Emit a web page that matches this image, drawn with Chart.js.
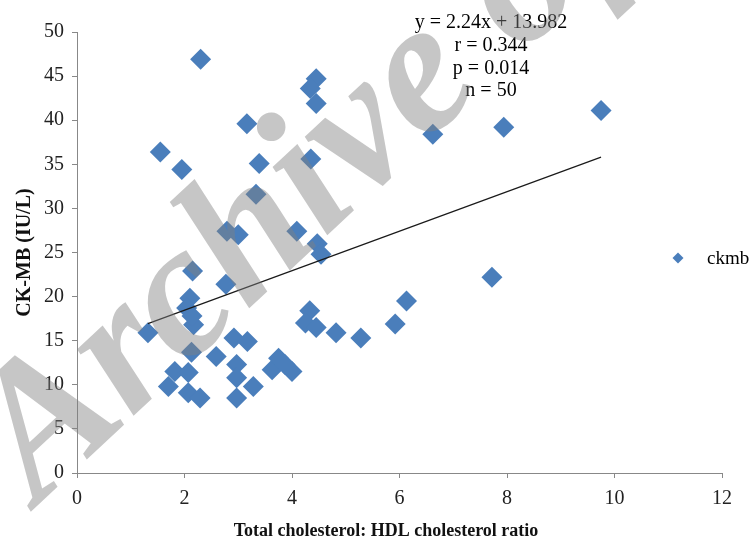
<!DOCTYPE html>
<html>
<head>
<meta charset="utf-8">
<script src="https://cdn.jsdelivr.net/npm/chart.js@4.4.0/dist/chart.umd.min.js"></script>
<style>
  html, body { margin: 0; padding: 0; background: #fff; }
  #wrap { width: 752px; height: 540px; }
</style>
</head>
<body>
<div id="wrap"><canvas id="scatter" width="752" height="540"></canvas></div>
<script>
// ratio values (x) and CK-MB values (y)
var ratio = [2.30, 4.45, 4.34, 4.45, 3.16, 1.55, 1.95, 3.39, 4.35, 3.33,
             2.79, 3.00, 4.09, 4.47, 4.54, 2.15, 2.77, 2.10, 2.04, 2.17,
             1.32, 4.33, 4.25, 4.45, 4.82, 5.28, 5.92, 6.13, 7.72, 2.13,
             2.59, 2.92, 3.17, 1.82, 2.07, 1.70, 2.07, 2.29, 2.97, 2.97,
             3.28, 2.97, 3.63, 3.75, 3.87, 4.00, 6.62, 7.94, 9.75, 2.14];
var ckmb  = [46.9, 44.7, 43.6, 41.9, 39.6, 36.4, 34.4, 35.1, 35.6, 31.6,
             27.4, 27.0, 27.4, 26.0, 24.8, 22.9, 21.4, 19.8, 18.7, 16.8,
             15.9, 18.4, 17.0, 16.5, 15.9, 15.3, 16.9, 19.5, 22.2, 13.7,
             13.2, 15.3, 14.9, 11.5, 11.4,  9.8,  9.1,  8.5, 12.3, 10.8,
              9.8,  8.5, 11.7, 13.0, 12.3, 11.5, 38.4, 39.2, 41.1, 17.8];

// linear trend line ends
var trendX = [1.32, 9.75];
var trendY = [16.94, 35.82];

var statLines = ["y = 2.24x + 13.982", "r = 0.344", "p = 0.014", "n = 50"];
var seriesName = "ckmb";
var xTitle = "Total cholesterol: HDL cholesterol ratio";
var yTitle = "CK-MB (IU/L)";
var watermark = "Archive of SID";

var serif = "'Liberation Serif', 'Times New Roman', serif";
var blue = "#4a7ebb";

var pts = [];
for (var i = 0; i < ratio.length; i++) {
    pts.push({x: ratio[i], y: ckmb[i]});
}
var trend = [];
for (var j = 0; j < trendX.length; j++) {
    trend.push({x: trendX[j], y: trendY[j]});
}

// stats text, legend, x title and the grey watermark
var extras = {
    id: "extras",
    afterDraw: function(chart) {
        var ctx = chart.ctx;
        ctx.save();
        ctx.fillStyle = "#000";
        ctx.font = "20px " + serif;
        ctx.textAlign = "center";
        ctx.textBaseline = "middle";
        for (var k = 0; k < statLines.length; k++) {
            ctx.fillText(statLines[k], 491, 23 + k * 22.7);
        }

        // x axis title, sits a bit left of the plot centre
        ctx.fillStyle = "#111";
        ctx.font = "bold 18px " + serif;
        ctx.fillText(xTitle, 386, 531);

        // legend
        ctx.fillStyle = blue;
        ctx.beginPath();
        ctx.moveTo(678, 252.5);
        ctx.lineTo(683.5, 258);
        ctx.lineTo(678, 263.5);
        ctx.lineTo(672.5, 258);
        ctx.closePath();
        ctx.fill();
        ctx.fillStyle = "#000";
        ctx.textAlign = "left";
        ctx.font = "19px " + serif;
        ctx.fillText(seriesName, 707, 259);

        // watermark
        ctx.translate(38, 505);
        ctx.rotate(-43 * Math.PI / 180);
        ctx.font = "italic bold 190px " + serif;
        ctx.fillStyle = "rgba(128,128,128,0.45)";
        ctx.textBaseline = "alphabetic";
        ctx.fillText(watermark, 0, 0);
        ctx.restore();
    }
};

new Chart(document.getElementById("scatter"), {
    type: "scatter",
    data: {
        datasets: [{
            label: seriesName,
            data: pts,
            pointStyle: "rectRot",
            pointRadius: 10.5,
            pointHoverRadius: 10.5,
            backgroundColor: blue,
            borderColor: blue,
            borderWidth: 0,
            order: 2
        }, {
            type: "line",
            label: "trend",
            data: trend,
            borderColor: "#1a1a1a",
            borderWidth: 1.2,
            pointRadius: 0,
            fill: false,
            order: 1
        }]
    },
    plugins: [extras],
    options: {
        responsive: false,
        animation: false,
        layout: { padding: { top: 32, right: 30, left: 0, bottom: 0 } },
        plugins: {
            legend: { display: false },
            tooltip: { enabled: false }
        },
        scales: {
            x: {
                type: "linear",
                min: 0, max: 12,
                afterFit: function(s) { s.height = 67; },
                ticks: { stepSize: 2, color: "#222", padding: 9, font: { family: serif, size: 20 } },
                grid: { drawOnChartArea: false, drawTicks: true, tickLength: 5, color: "#888" },
                border: { color: "#888", width: 1 },
                title: { display: false }
            },
            y: {
                min: 0, max: 50,
                afterFit: function(s) { s.width = 77; },
                ticks: { stepSize: 5, color: "#222", padding: 8, font: { family: serif, size: 20 } },
                grid: { drawOnChartArea: false, drawTicks: true, tickLength: 5, color: "#888" },
                border: { color: "#888", width: 1 },
                title: { display: true, text: yTitle, color: "#111", padding: { top: 13 },
                         font: { family: serif, size: 20, weight: "bold" } }
            }
        }
    }
});
</script>
</body>
</html>
